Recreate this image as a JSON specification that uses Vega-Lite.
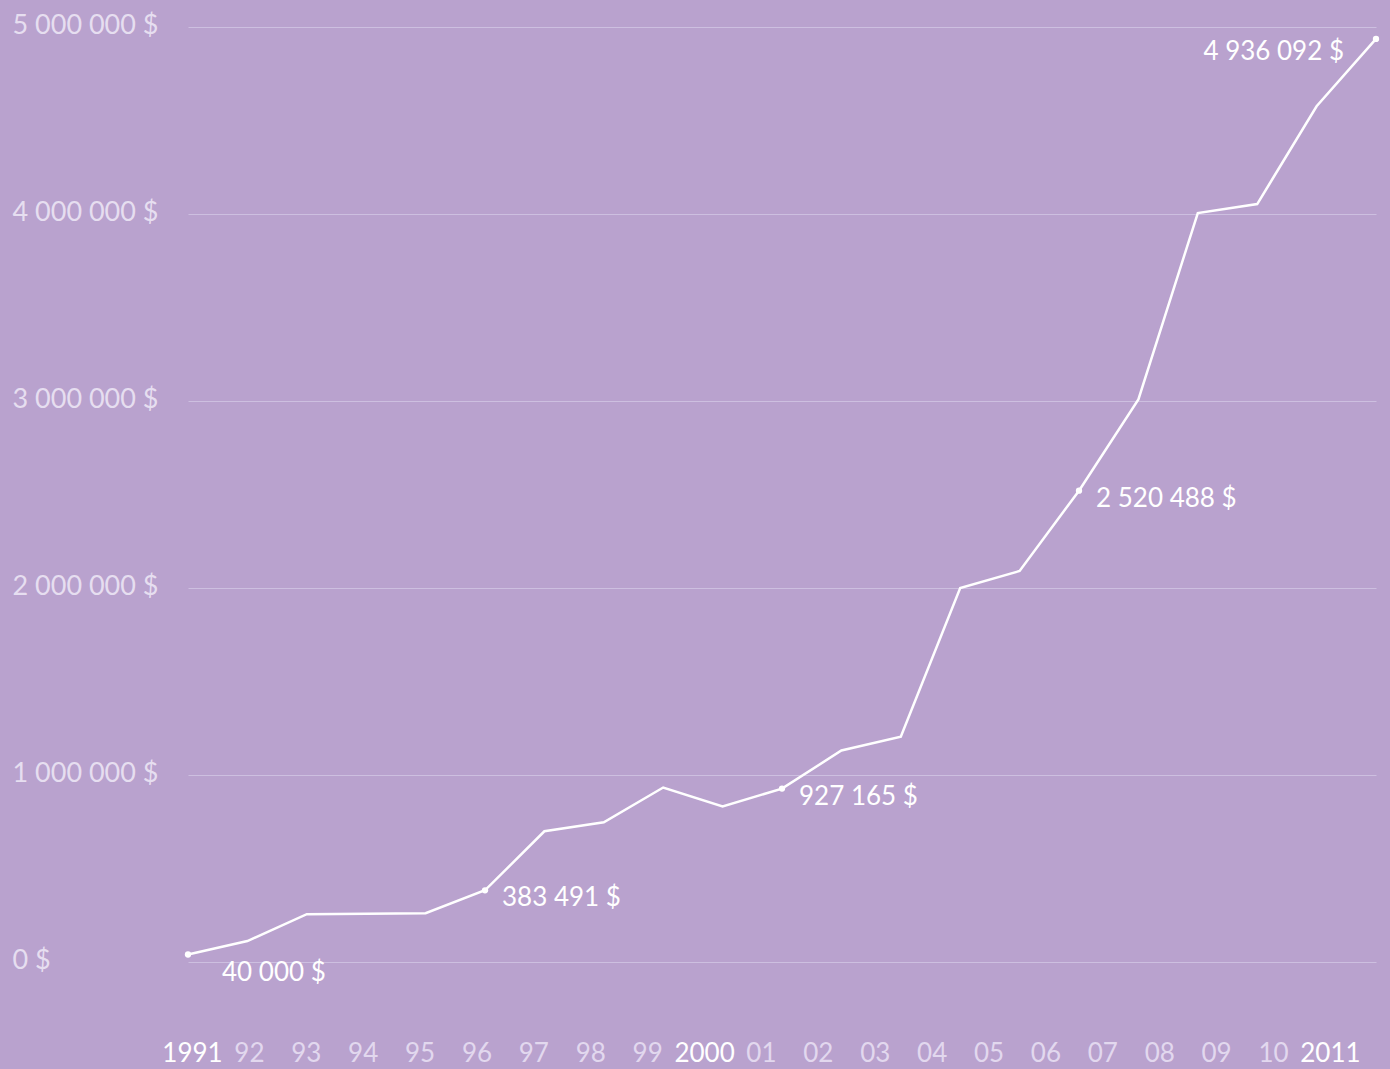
{
  "$schema": "https://vega.github.io/schema/vega-lite/v6.json",
  "width": 1188,
  "height": 935,
  "autosize": {"type": "none"},
  "padding": {"left": 188, "top": 27, "right": 14, "bottom": 107},
  "background": "#b9a2ce",
  "config": {"view": {"stroke": null}, "font": "Lato"},
  "data": {
    "values": [
      {"year": 1991, "value": 40000, "label": "40 000 $"},
      {"year": 1992, "value": 112000},
      {"year": 1993, "value": 256000},
      {"year": 1994, "value": 258000},
      {"year": 1995, "value": 261000},
      {"year": 1996, "value": 383491, "label": "383 491 $"},
      {"year": 1997, "value": 699000},
      {"year": 1998, "value": 747000},
      {"year": 1999, "value": 933000},
      {"year": 2000, "value": 832000},
      {"year": 2001, "value": 927165, "label": "927 165 $"},
      {"year": 2002, "value": 1131000},
      {"year": 2003, "value": 1205000},
      {"year": 2004, "value": 2000000},
      {"year": 2005, "value": 2091000},
      {"year": 2006, "value": 2520488, "label": "2 520 488 $"},
      {"year": 2007, "value": 3008000},
      {"year": 2008, "value": 4005000},
      {"year": 2009, "value": 4053000},
      {"year": 2010, "value": 4576000},
      {"year": 2011, "value": 4936092, "label": "4 936 092 $"}
    ]
  },
  "layer": [
    {
      "mark": {"type": "line", "color": "white", "strokeWidth": 2.5},
      "encoding": {
        "x": {"field": "year", "type": "quantitative", "scale": {"domain": [1991, 2011]}, "axis": null},
        "y": {
          "field": "value", "type": "quantitative",
          "scale": {"domain": [0, 5000000]},
          "axis": {
            "title": null,
            "values": [0, 1000000, 2000000, 3000000, 4000000, 5000000],
            "grid": true, "gridColor": "#cdbfe0", "gridWidth": 1,
            "domain": false, "ticks": false,
            "labelAlign": "left", "labelPadding": 176,
            "labelBaseline": "alphabetic", "labelOffset": 6,
            "labelColor": "#e6def0", "labelFontSize": 27,
            "labelExpr": "replace(format(datum.value, ','), regexp(',', 'g'), ' ') + ' $'"
          }
        }
      }
    },
    {
      "transform": [{"filter": "datum.label"}],
      "mark": {"type": "point", "filled": true, "color": "white", "size": 40, "opacity": 1},
      "encoding": {
        "x": {"field": "year", "type": "quantitative", "scale": {"domain": [1991, 2011]}, "axis": null},
        "y": {"field": "value", "type": "quantitative"}
      }
    },
    {
      "transform": [{"filter": "datum.year == 1991"}],
      "mark": {"type": "text", "color": "white", "fontSize": 26, "align": "left", "baseline": "middle", "dx": 34, "dy": 18},
      "encoding": {
        "x": {"field": "year", "type": "quantitative", "scale": {"domain": [1991, 2011]}, "axis": null},
        "y": {"field": "value", "type": "quantitative"},
        "text": {"field": "label"}
      }
    },
    {
      "transform": [{"filter": "datum.year == 1996 || datum.year == 2001 || datum.year == 2006"}],
      "mark": {"type": "text", "color": "white", "fontSize": 26, "align": "left", "baseline": "middle", "dx": 17, "dy": 8},
      "encoding": {
        "x": {"field": "year", "type": "quantitative", "scale": {"domain": [1991, 2011]}, "axis": null},
        "y": {"field": "value", "type": "quantitative"},
        "text": {"field": "label"}
      }
    },
    {
      "transform": [{"filter": "datum.year == 2011"}],
      "mark": {"type": "text", "color": "white", "fontSize": 26, "align": "right", "baseline": "middle", "dx": -32, "dy": 13},
      "encoding": {
        "x": {"field": "year", "type": "quantitative", "scale": {"domain": [1991, 2011]}, "axis": null},
        "y": {"field": "value", "type": "quantitative"},
        "text": {"field": "label"}
      }
    },
    {
      "mark": {"type": "rule", "opacity": 0},
      "encoding": {
        "x": {
          "field": "year", "type": "quantitative",
          "scale": {"domain": [1990.93, 2011.81]},
          "axis": {
            "title": null,
            "values": [1991, 1992, 1993, 1994, 1995, 1996, 1997, 1998, 1999, 2000, 2001, 2002, 2003, 2004, 2005, 2006, 2007, 2008, 2009, 2010, 2011],
            "grid": false, "domain": false, "ticks": false,
            "labelPadding": 78, "labelFontSize": 26,
            "labelFlush": false, "labelOverlap": false,
            "labelColor": {"condition": {"test": "datum.value == 1991 || datum.value == 2000 || datum.value == 2011", "value": "#ffffff"}, "value": "#e2d8ee"},
            "labelExpr": "datum.value == 1991 || datum.value == 2000 || datum.value == 2011 ? '' + datum.value : (datum.value % 100 < 10 ? '0' + (datum.value % 100) : '' + (datum.value % 100))"
          }
        }
      }
    }
  ],
  "resolve": {"scale": {"x": "independent"}}
}
